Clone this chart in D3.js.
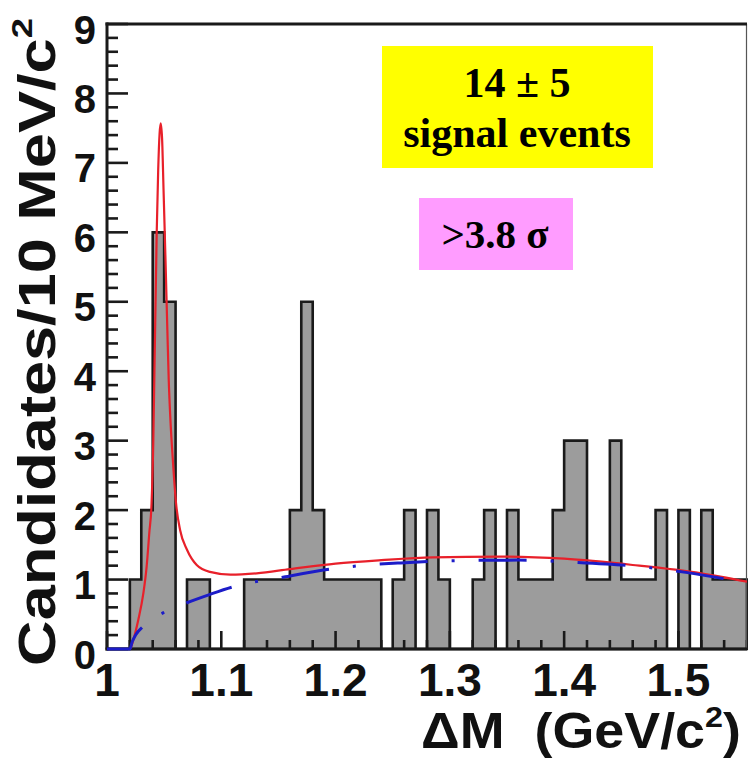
<!DOCTYPE html>
<html><head><meta charset="utf-8">
<script src="https://cdn.jsdelivr.net/npm/d3@7"></script>
<style>body{margin:0;background:#fff;overflow:hidden}</style>
</head><body><svg id="c" width="748" height="766"></svg>
<script>
// ---- data ----
const binStart = 1.00;
const binWidth = 0.01;
const counts = [0,0,1,2,6,5,0,1,1,0, 0,0,1,1,1,1,2,5,2,1, 1,1,1,1,0,1,2,0,2,1,
                0,0,1,2,0,2,1,1,1,2, 3,3,1,1,3,1,1,1,2,0, 2,0,2,1,1,1];
const fitCurve = [[1.0,0],[1.02,0],[1.023,0.13],[1.0274,0.42],[1.0318,0.8],[1.0347,1.19],[1.037,1.67],
  [1.039,2.1],[1.0405,3.0],[1.0415,4.0],[1.0425,5.0],[1.0435,6.0],[1.0448,6.9],[1.0460,7.42],[1.047,7.57],
  [1.0482,7.35],[1.0495,6.6],[1.0512,5.6],[1.0528,4.6],[1.054,3.88],[1.0555,3.3],[1.0575,2.75],[1.0604,2.1],
  [1.064,1.71],[1.07,1.43],[1.0785,1.21],[1.09,1.11],[1.108,1.07],[1.131,1.09],[1.16,1.15],[1.2,1.23],
  [1.24,1.28],[1.285,1.32],[1.344,1.33],[1.4,1.30],[1.46,1.21],[1.52,1.09],[1.56,0.97]];
const bkgCurve = [[1.0,0],[1.02,0],[1.022,0.1],[1.025,0.2],[1.032,0.33],[1.049,0.52],[1.069,0.66],[1.089,0.78],
  [1.109,0.89],[1.156,1.04],[1.2,1.16],[1.228,1.21],[1.257,1.24],[1.303,1.27],[1.36,1.28],[1.408,1.25],
  [1.464,1.19],[1.508,1.10],[1.56,0.95]];
const yTicks = [0,1,2,3,4,5,6,7,8,9];
const xTicks = [1.0,1.1,1.2,1.3,1.4,1.5];
const xTickLabels = ["1","1.1","1.2","1.3","1.4","1.5"];
const yTitle = "Candidates/10 MeV/c";
const xTitle = "\u0394M  (GeV/c";
const box1Lines = ["14 \u00b1 5","signal events"];
const box2Text = ">3.8 \u03c3";

// ---- layout ----
const L = 107, T = 24, R = 747, B = 649;
const x = d3.scaleLinear().domain([1.0, 1.56]).range([L, R]);
const y = d3.scaleLinear().domain([0, 9]).range([B, T]);
const svg = d3.select("#c");
const sans = "'Liberation Sans', Arial, Helvetica, sans-serif";
const serif = "'Liberation Serif', 'Times New Roman', serif";

svg.append("clipPath").attr("id","pc").append("rect")
  .attr("x",L).attr("y",T).attr("width",R-L).attr("height",B-T+2);

// histogram
const pts = counts.map((c,i)=>[+(binStart+i*binWidth).toFixed(2), c]);
pts.push([+(binStart+counts.length*binWidth).toFixed(2), counts[counts.length-1]]);
const area = d3.area().x(d=>x(d[0])).y0(y(0)).y1(d=>y(d[1])).curve(d3.curveStepAfter);
svg.append("path").attr("d", area(pts)).attr("fill","#9c9c9c")
  .attr("stroke","#1a1a1a").attr("stroke-width",2.6).attr("stroke-linejoin","miter");

// ticks
const tk = svg.append("g").attr("stroke","#1a1a1a").attr("stroke-width",2.6);
d3.range(0, 9.001, 0.2).forEach(v=>{
  const major = Math.abs(v-Math.round(v))<1e-6;
  tk.append("line").attr("x1",L).attr("x2",L+(major?21:11)).attr("y1",y(v)).attr("y2",y(v));
});
d3.range(1.0, 1.5601, 0.02).forEach(v=>{
  const major = Math.abs(v*10-Math.round(v*10))<1e-6;
  tk.append("line").attr("x1",x(v)).attr("x2",x(v)).attr("y1",B).attr("y2",B-(major?18:9));
});

// frame
svg.append("line").attr("x1",R-0.5).attr("x2",R-0.5).attr("y1",T).attr("y2",B)
  .attr("stroke","#555").attr("stroke-width",1.2);
svg.append("line").attr("x1",L-1.5).attr("x2",R).attr("y1",T).attr("y2",T)
  .attr("stroke","#1a1a1a").attr("stroke-width",3);
svg.append("line").attr("x1",L).attr("x2",L).attr("y1",T-1.5).attr("y2",B+1.5)
  .attr("stroke","#1a1a1a").attr("stroke-width",3);
svg.append("line").attr("x1",L-1.5).attr("x2",R).attr("y1",B).attr("y2",B)
  .attr("stroke","#1a1a1a").attr("stroke-width",3);

// curves (on top of frame)
const line = d3.line().x(d=>x(d[0])).y(d=>y(d[1])).curve(d3.curveMonotoneX);
const g = svg.append("g").attr("clip-path","url(#pc)");
g.append("path").attr("d", line(fitCurve)).attr("fill","none")
  .attr("stroke","#e8202a").attr("stroke-width",2.2);
g.append("path").attr("d", line(bkgCurve)).attr("fill","none")
  .attr("stroke","#1c1cc8").attr("stroke-width",3)
  .attr("stroke-dasharray","48,24,3,24").attr("stroke-dashoffset",0);

// tick labels
svg.append("g").selectAll("text").data(yTicks).join("text")
  .attr("x",96).attr("y",d=>y(d)+19.5).attr("text-anchor","end")
  .attr("font-family",sans).attr("font-weight","bold").attr("font-size",40)
  .attr("fill","#111").text(d=>d);
svg.append("g").selectAll("text").data(xTicks).join("text")
  .attr("x",d=>x(d)).attr("y",696).attr("text-anchor","middle")
  .attr("font-family",sans).attr("font-weight","bold").attr("font-size",46)
  .attr("fill","#111").text((d,i)=>xTickLabels[i]);

// axis titles
function fit(sel, w){ const bb = sel.node().getBBox(); return w/bb.width; }
const yg = svg.append("g");
const yt = yg.append("text").attr("text-anchor","middle")
  .attr("font-family",sans).attr("font-weight","bold").attr("font-size",52).attr("fill","#111");
yt.append("tspan").text(yTitle);
yt.append("tspan").attr("font-size",30).attr("dy",-23).text("2");
const ky = fit(yt, 648);
yg.attr("transform",`translate(55,342) rotate(-90) scale(${ky},1)`);

const xg = svg.append("g");
const xt = xg.append("text").attr("text-anchor","start").style("white-space","pre")
  .attr("font-family",sans).attr("font-weight","bold").attr("font-size",50).attr("fill","#111");
xt.append("tspan").text(xTitle);
xt.append("tspan").attr("font-size",30).attr("dy",-21).text("2");
xt.append("tspan").attr("dy",21).text(")");
const kx = fit(xt, 320);
xg.attr("transform",`translate(421,748) scale(${kx},1)`);

// text boxes
svg.append("rect").attr("x",382).attr("y",46).attr("width",271).attr("height",122).attr("fill","#ffff00");
svg.append("text").attr("x",517).attr("y",97).attr("text-anchor","middle")
  .attr("font-family",serif).attr("font-weight","bold").attr("font-size",42).text(box1Lines[0]);
svg.append("text").attr("x",517).attr("y",147).attr("text-anchor","middle")
  .attr("font-family",serif).attr("font-weight","bold").attr("font-size",42).text(box1Lines[1]);
svg.append("rect").attr("x",419).attr("y",198).attr("width",154).attr("height",72).attr("fill","#ff9cff");
svg.append("text").attr("x",495).attr("y",248).attr("text-anchor","middle")
  .attr("font-family",serif).attr("font-weight","bold").attr("font-size",41).text(box2Text);
</script></body></html>
